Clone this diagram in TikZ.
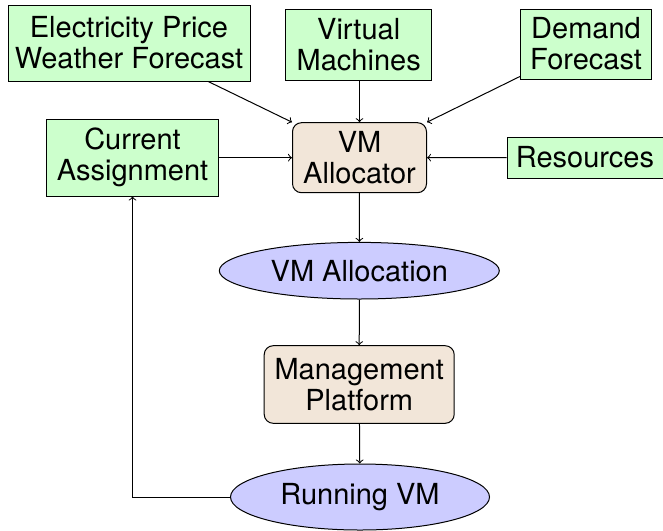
\documentclass[tikz,border=0pt]{standalone}
\usepackage{fontspec}
\setmainfont{TeX Gyre Heros}
\usetikzlibrary{shapes.geometric}
\definecolor{inputgreen}{RGB}{204,255,204}
\definecolor{procbeige}{RGB}{242,230,217}
\definecolor{dataviolet}{RGB}{204,204,255}
\begin{document}
\begin{tikzpicture}[x=0.5pt,y=-0.5pt,
  every node/.style={font=\fontsize{14.5}{15.5}\selectfont, align=center, inner sep=0pt},
  inputbox/.style={draw, line width=0.5pt, fill=inputgreen, rectangle},
  procbox/.style={draw, line width=0.5pt, fill=procbeige, rectangle, rounded corners=4.5pt},
  databox/.style={draw, line width=0.5pt, fill=dataviolet, ellipse},
  flow/.style={->, line width=0.5pt}]
\useasboundingbox (0,0) rectangle (663,530);
% inputs
\node[inputbox, minimum width=121pt, minimum height=38pt] (elec) at (129,43) {Electricity Price\\Weather Forecast};
\node[inputbox, minimum width=73pt, minimum height=35.5pt] (vms) at (358.7,44.5) {Virtual\\Machines};
\node[inputbox, minimum width=65.5pt, minimum height=35pt] (demand) at (586,44) {Demand\\Forecast};
\node[inputbox, minimum width=85.8pt, minimum height=38.3pt] (current) at (132.5,157.7) {Current\\Assignment};
\node[inputbox, minimum width=78pt, minimum height=20.5pt] (resources) at (585,157.5) {Resources};
% processing steps
\node[procbox, minimum width=67pt, minimum height=35pt] (alloc) at (359.5,157.7) {VM\\Allocator};
\node[procbox, minimum width=95pt, minimum height=38.8pt] (mgmt) at (359.2,384.5) {Management\\Platform};
% data
\node[databox, minimum width=140pt, minimum height=28.3pt] (allocation) at (359.3,270.7) {VM Allocation};
\node[databox, minimum width=129.5pt, minimum height=33pt] (running) at (360,497) {Running VM};
% connectors
\draw[flow] (elec) -- (alloc.north west);
\draw[flow] (vms.south -| alloc.north) -- (alloc.north);
\draw[flow] (demand) -- (alloc.north east);
\draw[flow] (current) -- (alloc);
\draw[flow] (resources) -- (alloc);
\draw[flow] (alloc) -- (allocation);
\draw[flow] (allocation) -- (mgmt);
\draw[flow] (mgmt) -- (running);
\draw[flow] (running.west) -| (current.south);
\end{tikzpicture}
\end{document}
